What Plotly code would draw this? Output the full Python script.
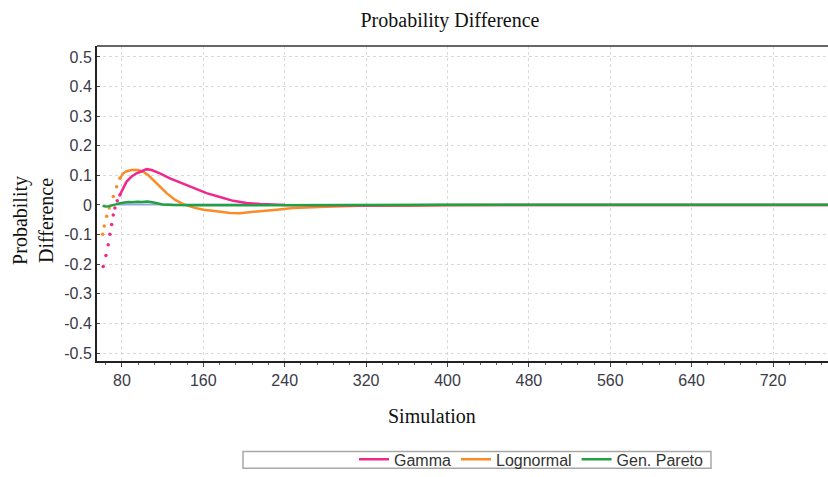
import plotly.graph_objects as go

# ---- data ----
gamma_dot_x = [61.6, 64.3, 66.5, 68.2, 69.9, 71.5, 73.1, 75.4, 78.0]
gamma_dot_y = [-0.208, -0.171, -0.134, -0.099, -0.066, -0.034, -0.010, 0.014, 0.034]
gamma_x = [78, 81.3, 84.6, 89.5, 94.4, 99.3, 104.2, 109.2, 117.3, 127.2, 137, 150, 163.2,
           176.3, 189.3, 202.5, 215.6, 240, 280, 320, 400, 480, 560, 640, 720, 775]
gamma_y = [0.034, 0.057, 0.079, 0.096, 0.107, 0.114, 0.121, 0.118, 0.107, 0.090, 0.076, 0.057,
           0.040, 0.027, 0.014, 0.007, 0.003, 0.0, -0.002, -0.002, 0, 0, 0, 0, 0, 0]

logn_dot_x = [61.0, 62.6, 65.0, 67.5, 71.5, 74.8, 78.0]
logn_dot_y = [-0.099, -0.071, -0.038, -0.010, 0.029, 0.062, 0.090]
logn_x = [78, 81.3, 84.6, 89.5, 96, 100.9, 105.8, 110.7, 117.3, 123.9, 132, 140.2, 150, 159.9,
          173, 186.1, 195.9, 205.7, 215.6, 232, 248.3, 281, 313.8, 360, 400, 480, 560, 640, 720, 775]
logn_y = [0.090, 0.107, 0.114, 0.118, 0.118, 0.112, 0.101, 0.084, 0.062, 0.040, 0.018, 0.003,
          -0.008, -0.016, -0.021, -0.027, -0.028, -0.024, -0.021, -0.016, -0.010, -0.006, -0.003,
          -0.003, -0.001, 0, 0, 0, 0, 0]

pareto_x = [61, 64, 67, 70, 74, 78, 82, 86, 90, 95, 100, 105, 110, 115, 120, 130, 150, 200,
            300, 400, 480, 560, 640, 720, 775]
pareto_y = [-0.003, -0.005, -0.004, -0.002, 0.002, 0.006, 0.008, 0.010, 0.009, 0.011, 0.010,
            0.012, 0.009, 0.005, 0.002, 0.0, -0.001, -0.001, 0.001, 0.001, 0.001, 0.001, 0.001,
            0.001, 0.001]

ref_x = [75, 215]
ref_y = [0.002, 0.002]

y_ticks = [0.5, 0.4, 0.3, 0.2, 0.1, 0, -0.1, -0.2, -0.3, -0.4, -0.5]
y_labels = ["0.5", "0.4", "0.3", "0.2", "0.1", "0", "-0.1", "-0.2", "-0.3", "-0.4", "-0.5"]
x_ticks = [80, 160, 240, 320, 400, 480, 560, 640, 720]
x_labels = [str(v) for v in x_ticks]

PINK = "#F0288C"
ORANGE = "#FA8C28"
GREEN = "#24A044"
BLUE = "#8FA8E0"

fig = go.Figure()
fig.add_trace(go.Scatter(x=ref_x, y=ref_y, mode="lines", line=dict(color=BLUE, width=2),
                         showlegend=False, hoverinfo="skip"))
fig.add_trace(go.Scatter(x=logn_x, y=logn_y, mode="lines", name="Lognormal", legendrank=2,
                         line=dict(color=ORANGE, width=2.5)))
fig.add_trace(go.Scatter(x=logn_dot_x, y=logn_dot_y, mode="markers", showlegend=False,
                         marker=dict(color=ORANGE, size=3.5)))
fig.add_trace(go.Scatter(x=gamma_x, y=gamma_y, mode="lines", name="Gamma", legendrank=1,
                         line=dict(color=PINK, width=2.5)))
fig.add_trace(go.Scatter(x=gamma_dot_x, y=gamma_dot_y, mode="markers", showlegend=False,
                         marker=dict(color=PINK, size=3.5)))
fig.add_trace(go.Scatter(x=pareto_x, y=pareto_y, mode="lines", name="Gen. Pareto", legendrank=3,
                         line=dict(color=GREEN, width=2.5)))

tick_font = dict(family="Liberation Sans, Arial", size=16, color="#3a3a48")
serif = "Liberation Serif, Times New Roman"

fig.update_layout(
    width=828, height=477,
    margin=dict(l=97, r=0, t=46, b=114),
    paper_bgcolor="white", plot_bgcolor="white",
    title=dict(text="Probability Difference", x=450/828, xref="container", xanchor="center",
               y=1-20/477, yref="container", yanchor="middle",
               font=dict(family=serif, size=20, color="#111")),
    xaxis=dict(range=[55.5, 774], tickvals=x_ticks, ticktext=x_labels, tickfont=tick_font,
               showline=True, linecolor="#222", linewidth=2,
               showgrid=True, gridcolor="#d9d9d9", griddash="dot", gridwidth=1,
               ticks="outside", ticklen=4, tickcolor="#444",
               minor=dict(dtick=16, tick0=0, ticks="outside", ticklen=2, tickcolor="#666", showgrid=False),
               zeroline=False),
    yaxis=dict(range=[-0.527, 0.537], tickvals=y_ticks, ticktext=y_labels, tickfont=tick_font,
               showline=True, linecolor="#222", linewidth=2,
               showgrid=True, gridcolor="#d9d9d9", griddash="dot", gridwidth=1,
               ticks="inside", ticklen=3, tickcolor="#444", zeroline=False),
    showlegend=True,
    legend=dict(orientation="h", x=(708-97)/731, xanchor="right", y=(363-462)/317, yanchor="middle",
                font=dict(family="Liberation Sans, Arial", size=16, color="#333"),
                bgcolor="rgba(0,0,0,0)", itemwidth=30, traceorder="normal"),
    shapes=[
        dict(type="rect", xref="paper", yref="paper", x0=(243-97)/731, x1=(711-97)/731,
             y0=(363-471)/317, y1=(363-454)/317, line=dict(color="#a8a8a8", width=1.5)),
        dict(type="line", xref="paper", yref="paper", x0=0, x1=1, y0=1, y1=1,
             line=dict(color="#333", width=1.5)),
    ],
    annotations=[
        dict(text="Simulation", xref="paper", yref="paper", x=(432-97)/731, y=(363-418)/317,
             xanchor="center", yanchor="middle",
             showarrow=False, font=dict(family=serif, size=20, color="#111")),
        dict(text="Probability<br>Difference", xref="paper", yref="paper", x=(33-97)/731,
             y=(363-222)/317, xanchor="center", yanchor="middle", textangle=-90, showarrow=False,
             font=dict(family=serif, size=20, color="#111")),
    ],
)

fig.write_html("out.html", config={"displayModeBar": False})
with open("out.html", "r", encoding="utf-8") as f:
    html = f.read()
html = html.replace("<head>", "<head><style>html,body{margin:0;padding:0;overflow:hidden}</style>", 1)
with open("out.html", "w", encoding="utf-8") as f:
    f.write(html)
